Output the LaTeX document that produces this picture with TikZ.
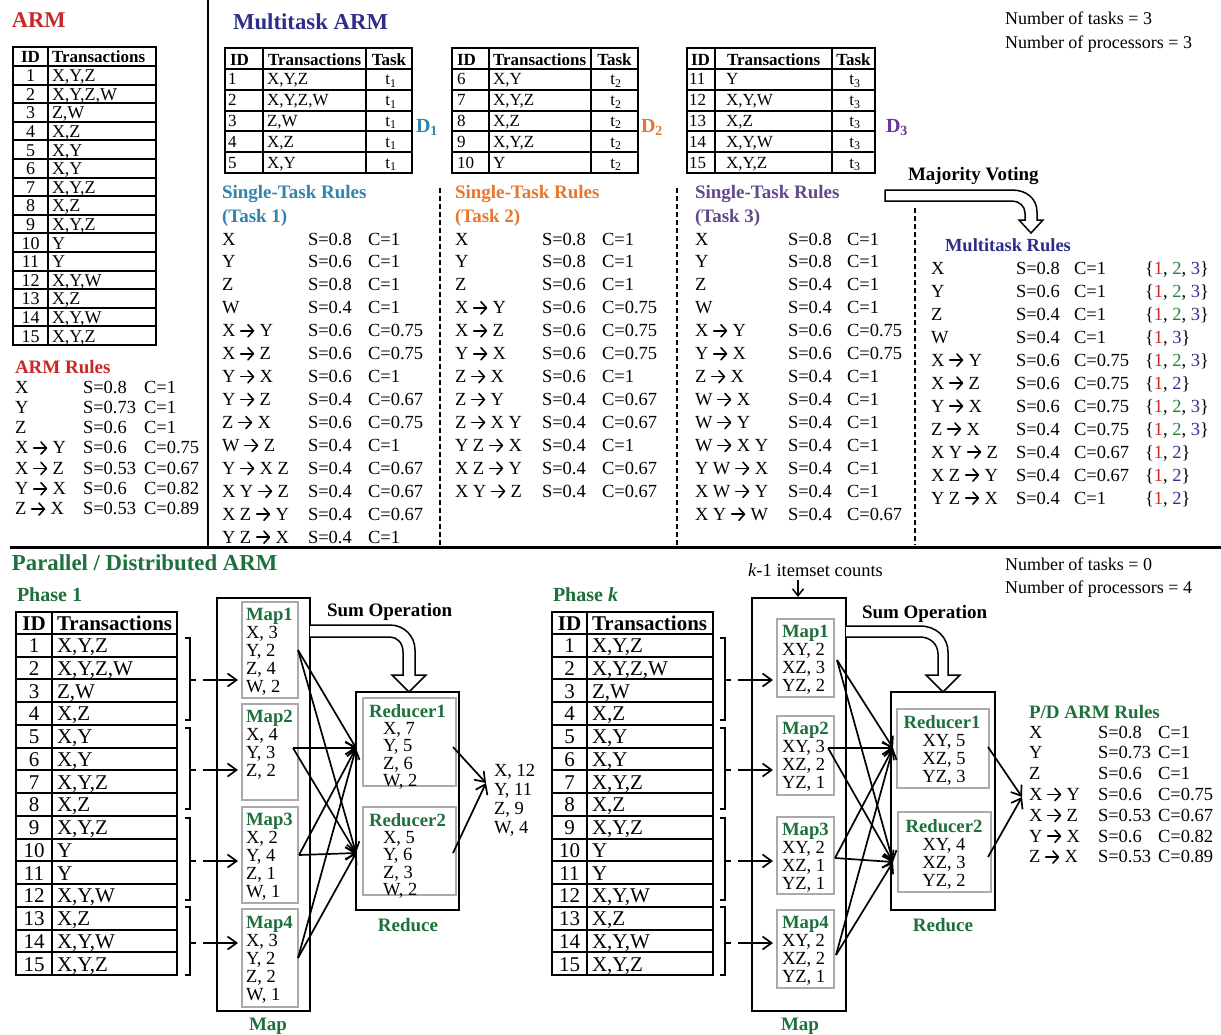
\documentclass[tikz,border=0pt]{standalone}
\usepackage{fontspec}
\setmainfont{Liberation Serif}
\usetikzlibrary{arrows.meta}
\definecolor{armred}{RGB}{200,40,40}
\definecolor{navy}{RGB}{44,46,138}
\definecolor{tealA}{RGB}{49,133,170}
\definecolor{orangeB}{RGB}{232,118,44}
\definecolor{purpleC}{RGB}{100,72,140}
\definecolor{purpleD}{RGB}{112,48,160}
\definecolor{pgreen}{RGB}{30,112,60}
\definecolor{setgreen}{RGB}{40,130,60}
\definecolor{setblue}{RGB}{50,50,150}
\definecolor{boxgray}{RGB}{170,170,170}
\newcommand{\fs}[1]{\fontsize{#1}{#1}\selectfont}
\newcommand{\rar}{\tikz[baseline=0pt]\draw[line width=0.085em, line cap=round, -{Straight Barb[length=0.3em,width=0.66em,line cap=round,line join=round]}] (0.05em,0.32em) -- (0.78em,0.32em);}
\newcommand{\sabc}{\{{\color{armred}1}, {\color{setgreen}2}, {\color{setblue}3}\}}
\newcommand{\sac}{\{{\color{armred}1}, {\color{setblue}3}\}}
\newcommand{\sab}{\{{\color{armred}1}, {\color{setblue}2}\}}
\def\translist{{X,Y,Z},{X,Y,Z,W},{Z,W},{X,Z},{X,Y},{X,Y},{X,Y,Z},{X,Z},{X,Y,Z},{Y},{Y},{X,Y,W},{X,Z},{X,Y,W},{X,Y,Z}}
\newcommand{\rulesblock}[7]{%
  \foreach \rl/\sv/\cv [count=\i from 0] in {#7} {
    \node[txt] (#1r\i) at (#2,#5+\i*#6) {\rl};
    \node[txt] (#1s\i) at (#3,#5+\i*#6) {S=\sv};
    \node[txt] (#1c\i) at (#4,#5+\i*#6) {C=\cv};
  }}
\begin{document}
\begin{tikzpicture}[x=1pt,y=-1pt,
  txt/.style={anchor=base west, inner sep=0pt, outer sep=0pt, font=\fs{18.5}},
  ctr/.style={anchor=base, inner sep=0pt, outer sep=0pt, font=\fs{18.5}},
  hd/.style={anchor=base west, inner sep=0pt, outer sep=0pt, font=\fs{19}\bfseries},
  tbl/.style={line width=2pt},
  dashline/.style={line width=1.2pt, dash pattern=on 5pt off 3pt},
  box/.style={draw, rectangle, inner sep=0pt, outer sep=0pt, anchor=north west, line width=1.5pt},
  gbox/.style={box, draw=boxgray, line width=2pt},
  arr/.style={line width=1.7pt, -{Straight Barb[length=9pt,width=13pt]}},
  brk/.style={line width=1.5pt},
  sumarr/.style={draw, fill=white, line width=1.5pt, line join=miter}]
\fill[white] (0,0) rectangle (1221,1034);
\useasboundingbox (0,0) rectangle (1221,1034);

% ---------- dividers ----------
\draw[line width=2.5pt] (208,0) -- (208,547);
\draw[line width=3pt] (10,547) -- (1221,547);
\draw[dashline] (440,188) -- (440,545);
\draw[dashline] (677,188) -- (677,545);
\draw[dashline] (915,208) -- (915,545);

% ---------- ARM ----------
\node[txt, font=\fs{22.5}\bfseries, text=armred] (tarm) at (12,27) {ARM};
\draw[tbl] (13,47) rectangle (156,345);
\draw[tbl] (48,47) -- (48,345);
\foreach \i in {0,...,14} \draw[tbl] (13,66+\i*18.6) -- (156,66+\i*18.6);
\node[ctr, font=\fs{17}\bfseries] (armhid) at (30.5,62) {ID};
\node[txt, font=\fs{17}\bfseries] (armhtr) at (52,62) {Transactions};
\foreach \t [count=\i] in \translist {
  \node[ctr, font=\fs{18}] (armid\i) at (30.5,63+\i*18.6) {\i};
  \node[txt, font=\fs{18}] (armtr\i) at (52,63+\i*18.6) {\t};
}
\node[txt, font=\fs{19}\bfseries, text=armred] (tarmr) at (15,373) {ARM Rules};
\rulesblock{ar}{15}{83}{144}{393}{20.33}{X/0.8/1, Y/0.73/1, Z/0.6/1, X \rar{} Y/0.6/0.75, X \rar{} Z/0.53/0.67, Y \rar{} X/0.6/0.82, Z \rar{} X/0.53/0.89}

% ---------- Multitask ARM ----------
\node[txt, font=\fs{22.8}\bfseries, text=navy] (tmarm) at (233,29) {Multitask ARM};
\node[txt, font=\fs{18}] (ntask1) at (1005,24) {Number of tasks = 3};
\node[txt, font=\fs{18}] (nproc1) at (1005,48) {Number of processors = 3};

% table 1
\draw[tbl] (225,48) rectangle (412,173);
\draw[tbl] (263,48) -- (263,173);
\draw[tbl] (366,48) -- (366,173);
\foreach \i in {0,...,4} \draw[tbl] (225,69+\i*20.8) -- (412,69+\i*20.8);
\node[txt, font=\fs{17}\bfseries] (tahid) at (230,65) {ID};
\node[txt, font=\fs{17}\bfseries] (tahtr) at (268,65) {Transactions};
\node[ctr, font=\fs{17}\bfseries] (tahtk) at (389,65) {Task};
\foreach \id/\t [count=\i] in {1/{X,Y,Z},2/{X,Y,Z,W},3/{Z,W},4/{X,Z},5/{X,Y}} {
  \node[txt, font=\fs{17}] (taid\i) at (228,64+\i*20.8) {\id};
  \node[txt, font=\fs{17}] (tatr\i) at (267,64+\i*20.8) {\t};
  \node[ctr, font=\fs{17}] (tatk\i) at (391,64+\i*20.8) {t\textsubscript{1}};
}
\node[txt, font=\fs{20}\bfseries, text=tealA] (d1) at (416,132) {D\textsubscript{1}};

% table 2
\draw[tbl] (452,48) rectangle (638,173);
\draw[tbl] (489,48) -- (489,173);
\draw[tbl] (591,48) -- (591,173);
\foreach \i in {0,...,4} \draw[tbl] (452,69+\i*20.8) -- (638,69+\i*20.8);
\node[txt, font=\fs{17}\bfseries] (tbhid) at (457,65) {ID};
\node[txt, font=\fs{17}\bfseries] (tbhtr) at (493,65) {Transactions};
\node[ctr, font=\fs{17}\bfseries] (tbhtk) at (614.5,65) {Task};
\foreach \id/\t [count=\i] in {6/{X,Y},7/{X,Y,Z},8/{X,Z},9/{X,Y,Z},10/{Y}} {
  \node[txt, font=\fs{17}] (tbid\i) at (457,64+\i*20.8) {\id};
  \node[txt, font=\fs{17}] (tbtr\i) at (493,64+\i*20.8) {\t};
  \node[ctr, font=\fs{17}] (tbtk\i) at (616,64+\i*20.8) {t\textsubscript{2}};
}
\node[txt, font=\fs{20}\bfseries, text=orangeB] (d2) at (641,132) {D\textsubscript{2}};

% table 3
\draw[tbl] (687,48) rectangle (875,173);
\draw[tbl] (715,48) -- (715,173);
\draw[tbl] (832,48) -- (832,173);
\foreach \i in {0,...,4} \draw[tbl] (687,69+\i*20.8) -- (875,69+\i*20.8);
\node[txt, font=\fs{17}\bfseries] (tchid) at (691,65) {ID};
\node[txt, font=\fs{17}\bfseries] (tchtr) at (727,65) {Transactions};
\node[ctr, font=\fs{17}\bfseries] (tchtk) at (853.5,65) {Task};
\foreach \id/\t [count=\i] in {11/{Y},12/{X,Y,W},13/{X,Z},14/{X,Y,W},15/{X,Y,Z}} {
  \node[txt, font=\fs{17}] (tcid\i) at (689,64+\i*20.8) {\id};
  \node[txt, font=\fs{17}] (tctr\i) at (726,64+\i*20.8) {\t};
  \node[ctr, font=\fs{17}] (tctk\i) at (855,64+\i*20.8) {t\textsubscript{3}};
}
\node[txt, font=\fs{20}\bfseries, text=purpleD] (d3) at (886,132) {D\textsubscript{3}};

% single-task rules
\node[hd, text=tealA] (st1a) at (222,198) {Single-Task Rules};
\node[hd, text=tealA] (st1b) at (222,222) {(Task 1)};
\rulesblock{ra}{222}{308}{368}{245}{22.93}{X/0.8/1, Y/0.6/1, Z/0.8/1, W/0.4/1, X \rar{} Y/0.6/0.75, X \rar{} Z/0.6/0.75, Y \rar{} X/0.6/1, Y \rar{} Z/0.4/0.67, Z \rar{} X/0.6/0.75, W \rar{} Z/0.4/1, Y \rar{} X Z/0.4/0.67, X Y \rar{} Z/0.4/0.67, X Z \rar{} Y/0.4/0.67, Y Z \rar{} X/0.4/1}

\node[hd, text=orangeB] (st2a) at (455,198) {Single-Task Rules};
\node[hd, text=orangeB] (st2b) at (455,222) {(Task 2)};
\rulesblock{rb}{455}{542}{602}{245}{22.93}{X/0.8/1, Y/0.8/1, Z/0.6/1, X \rar{} Y/0.6/0.75, X \rar{} Z/0.6/0.75, Y \rar{} X/0.6/0.75, Z \rar{} X/0.6/1, Z \rar{} Y/0.4/0.67, Z \rar{} X Y/0.4/0.67, Y Z \rar{} X/0.4/1, X Z \rar{} Y/0.4/0.67, X Y \rar{} Z/0.4/0.67}

\node[hd, text=purpleC] (st3a) at (695,198) {Single-Task Rules};
\node[hd, text=purpleC] (st3b) at (695,222) {(Task 3)};
\rulesblock{rc}{695}{788}{847}{245}{22.93}{X/0.8/1, Y/0.8/1, Z/0.4/1, W/0.4/1, X \rar{} Y/0.6/0.75, Y \rar{} X/0.6/0.75, Z \rar{} X/0.4/1, W \rar{} X/0.4/1, W \rar{} Y/0.4/1, W \rar{} X Y/0.4/1, Y W \rar{} X/0.4/1, X W \rar{} Y/0.4/1, X Y \rar{} W/0.4/0.67}

% majority voting
\node[txt, font=\fs{19}\bfseries] (mvote) at (908,180) {Majority Voting};
\draw[sumarr] (885,190) -- (1012,190) .. controls (1027,190) and (1037,199) .. (1037,212) -- (1037,220) -- (1043,220) -- (1031,233) -- (1019,220) -- (1025,220) -- (1025,213) .. controls (1025,206) and (1019,201) .. (1012,201) -- (885,201) -- cycle;

% multitask rules
\node[txt, font=\fs{18.5}\bfseries, text=navy] (tmr) at (945,251) {Multitask Rules};
\foreach \rl/\sv/\cv/\st [count=\i from 0] in {X/0.8/1/\sabc, Y/0.6/1/\sabc, Z/0.4/1/\sabc, W/0.4/1/\sac, X \rar{} Y/0.6/0.75/\sabc, X \rar{} Z/0.6/0.75/\sab, Y \rar{} X/0.6/0.75/\sabc, Z \rar{} X/0.4/0.75/\sabc, X Y \rar{} Z/0.4/0.67/\sab, X Z \rar{} Y/0.4/0.67/\sab, Y Z \rar{} X/0.4/1/\sab} {
  \node[txt] (mtr\i) at (931,274+\i*23) {\rl};
  \node[txt] (mts\i) at (1016,274+\i*23) {S=\sv};
  \node[txt] (mtc\i) at (1074,274+\i*23) {C=\cv};
  \node[txt] (mtt\i) at (1145,274+\i*23) {\st};
}

% ---------- Parallel / Distributed ARM ----------
\node[txt, font=\fs{22.8}\bfseries, text=pgreen] (tpd) at (12,570) {Parallel / Distributed ARM};
\node[txt, font=\fs{18}] (ntask2) at (1005,570) {Number of tasks = 0};
\node[txt, font=\fs{18}] (nproc2) at (1005,593) {Number of processors = 4};

% Phase 1 table
\node[txt, font=\fs{20}\bfseries, text=pgreen] (tph1) at (17,601) {Phase 1};
\draw[tbl] (16,612) rectangle (177,975);
\draw[tbl] (52,612) -- (52,975);
\foreach \i in {0,...,14} \draw[tbl] (16,634+\i*22.733) -- (177,634+\i*22.733);
\node[ctr, font=\fs{21}\bfseries] (p1hid) at (34,630) {ID};
\node[txt, font=\fs{21}\bfseries] (p1htr) at (57,630) {Transactions};
\foreach \t [count=\i] in \translist {
  \node[ctr, font=\fs{21}] (p1id\i) at (34,630+\i*22.733) {\i};
  \node[txt, font=\fs{21}] (p1tr\i) at (57,630+\i*22.733) {\t};
}
\foreach \a/\b/\m [count=\k] in {638/720/680, 728/809/770, 818/900/861, 907/975/943} {
  \draw[brk] (185,\a) -- (190,\a) -- (190,\b) -- (185,\b);
  \draw[brk] (190,\m) -- (196,\m);
  \coordinate (p1b\k) at (203,\m);
  \coordinate (p1a\k) at (238,\m);
  \draw[arr] (p1b\k) -- (p1a\k);
}

% Phase 1 map
\node[box, minimum width=93pt, minimum height=413pt] (p1map) at (217,598) {};
\node[gbox, minimum width=56pt, minimum height=96pt] (p1m1) at (242,602) {};
\node[gbox, minimum width=56pt, minimum height=96pt] (p1m2) at (242,704) {};
\node[gbox, minimum width=56pt, minimum height=96pt] (p1m3) at (242,807) {};
\node[gbox, minimum width=56pt, minimum height=98pt] (p1m4) at (242,909) {};
\node[txt, font=\fs{18.7}\bfseries, text=pgreen] (p1m1t) at (246,620) {Map1};
\foreach \t [count=\i] in {{X, 3},{Y, 2},{Z, 4},{W, 2}} \node[txt] (p1m1l\i) at (246,620+\i*18.2) {\t};
\node[txt, font=\fs{18.7}\bfseries, text=pgreen] (p1m2t) at (246,722) {Map2};
\foreach \t [count=\i] in {{X, 4},{Y, 3},{Z, 2}} \node[txt] (p1m2l\i) at (246,722+\i*18.2) {\t};
\node[txt, font=\fs{18.7}\bfseries, text=pgreen] (p1m3t) at (246,825) {Map3};
\foreach \t [count=\i] in {{X, 2},{Y, 4},{Z, 1},{W, 1}} \node[txt] (p1m3l\i) at (246,825+\i*18.2) {\t};
\node[txt, font=\fs{18.7}\bfseries, text=pgreen] (p1m4t) at (246,928) {Map4};
\foreach \t [count=\i] in {{X, 3},{Y, 2},{Z, 2},{W, 1}} \node[txt] (p1m4l\i) at (246,928+\i*18.2) {\t};
\node[ctr, font=\fs{19}\bfseries, text=pgreen] (p1maplbl) at (268,1030) {Map};

% Phase 1 sum operation
\node[txt, font=\fs{19}\bfseries] (p1sum) at (327,616) {Sum Operation};
\draw[sumarr] (310,625) -- (390,625) .. controls (404,625) and (415,636) .. (415,650) -- (415,675) -- (426,675) -- (409,692) -- (392,675) -- (403,675) -- (403,652) .. controls (403,643) and (397,637) .. (390,637) -- (310,637);

% Phase 1 reduce
\node[box, minimum width=103pt, minimum height=218pt] (p1red) at (356,692) {};
\node[gbox, minimum width=93pt, minimum height=88pt] (p1r1) at (363,698) {};
\node[gbox, minimum width=93pt, minimum height=88pt] (p1r2) at (363,807) {};
\node[txt, font=\fs{18.7}\bfseries, text=pgreen] (p1r1t) at (369,717) {Reducer1};
\foreach \t [count=\i] in {{X, 7},{Y, 5},{Z, 6},{W, 2}} \node[txt] (p1r1l\i) at (383,717+\i*17.4) {\t};
\node[txt, font=\fs{18.7}\bfseries, text=pgreen] (p1r2t) at (369,826) {Reducer2};
\foreach \t [count=\i] in {{X, 5},{Y, 6},{Z, 3},{W, 2}} \node[txt] (p1r2l\i) at (383,826+\i*17.4) {\t};
\node[ctr, font=\fs{19}\bfseries, text=pgreen] (p1redlbl) at (408,931) {Reduce};
\foreach \t [count=\i] in {{X, 12},{Y, 11},{Z, 9},{W, 4}} \node[txt] (p1o\i) at (494,757+\i*19) {\t};

\coordinate (p1s1) at (298,650);
\coordinate (p1s2) at (293,748);
\coordinate (p1s3) at (299,855);
\coordinate (p1s4) at (298,958);
\coordinate (p1t1) at (356,748);
\coordinate (p1t2) at (356,853);
\foreach \k in {1,...,4} {
  \draw[arr] (p1s\k) -- (p1t1);
  \draw[arr] (p1s\k) -- (p1t2);
}
\coordinate (p1q1) at (453,747);
\coordinate (p1q2) at (453,853);
\coordinate (p1out) at (486,783);
\draw[arr] (p1q1) -- (p1out);
\draw[arr] (p1q2) -- (p1out);

% Phase k table
\node[txt, font=\fs{20}\bfseries, text=pgreen] (tphk) at (553,601) {Phase \textit{k}};
\draw[tbl] (552,612) rectangle (713,975);
\draw[tbl] (587,612) -- (587,975);
\foreach \i in {0,...,14} \draw[tbl] (552,634+\i*22.733) -- (713,634+\i*22.733);
\node[ctr, font=\fs{21}\bfseries] (pkhid) at (569.5,630) {ID};
\node[txt, font=\fs{21}\bfseries] (pkhtr) at (592,630) {Transactions};
\foreach \t [count=\i] in \translist {
  \node[ctr, font=\fs{21}] (pkid\i) at (569.5,630+\i*22.733) {\i};
  \node[txt, font=\fs{21}] (pktr\i) at (592,630+\i*22.733) {\t};
}
\foreach \a/\b/\m [count=\k] in {638/720/680, 728/809/770, 818/900/861, 907/975/943} {
  \draw[brk] (720,\a) -- (725,\a) -- (725,\b) -- (720,\b);
  \draw[brk] (725,\m) -- (731,\m);
  \coordinate (pkb\k) at (738,\m);
  \coordinate (pka\k) at (773,\m);
  \draw[arr] (pkb\k) -- (pka\k);
}

% Phase k map
\node[txt] (kcount) at (748,576) {\textit{k}-1 itemset counts};
\node[box, minimum width=94pt, minimum height=413pt] (pkmap) at (752,598) {};
\coordinate (kc1) at (798,580);
\coordinate (kc2) at (798,597);
\draw[line width=1.5pt, -{Straight Barb[length=7pt,width=11pt]}] (kc1) -- (kc2);
\node[gbox, minimum width=57pt, minimum height=78pt] (pkm1) at (777,619) {};
\node[gbox, minimum width=57pt, minimum height=79pt] (pkm2) at (777,716) {};
\node[gbox, minimum width=57pt, minimum height=77pt] (pkm3) at (777,817) {};
\node[gbox, minimum width=57pt, minimum height=78pt] (pkm4) at (777,910) {};
\node[txt, font=\fs{18.7}\bfseries, text=pgreen] (pkm1t) at (782,637) {Map1};
\foreach \t [count=\i] in {{XY, 2},{XZ, 3},{YZ, 2}} \node[txt] (pkm1l\i) at (782,637+\i*18) {\t};
\node[txt, font=\fs{18.7}\bfseries, text=pgreen] (pkm2t) at (782,734) {Map2};
\foreach \t [count=\i] in {{XY, 3},{XZ, 2},{YZ, 1}} \node[txt] (pkm2l\i) at (782,734+\i*18) {\t};
\node[txt, font=\fs{18.7}\bfseries, text=pgreen] (pkm3t) at (782,835) {Map3};
\foreach \t [count=\i] in {{XY, 2},{XZ, 1},{YZ, 1}} \node[txt] (pkm3l\i) at (782,835+\i*18) {\t};
\node[txt, font=\fs{18.7}\bfseries, text=pgreen] (pkm4t) at (782,928) {Map4};
\foreach \t [count=\i] in {{XY, 2},{XZ, 2},{YZ, 1}} \node[txt] (pkm4l\i) at (782,928+\i*18) {\t};
\node[ctr, font=\fs{19}\bfseries, text=pgreen] (pkmaplbl) at (800,1030) {Map};

% Phase k sum operation
\node[txt, font=\fs{19}\bfseries] (pksum) at (862,618) {Sum Operation};
\draw[sumarr] (846,626) -- (920,626) .. controls (936,626) and (948,637) .. (948,652) -- (948,675) -- (960,675) -- (943,692) -- (926,675) -- (938,675) -- (938,654) .. controls (938,644) and (930,637) .. (920,637) -- (846,637);

% Phase k reduce
\node[box, minimum width=104pt, minimum height=218pt] (pkred) at (891,692) {};
\node[gbox, minimum width=92pt, minimum height=79pt] (pkr1) at (897,709) {};
\node[gbox, minimum width=93pt, minimum height=80pt] (pkr2) at (898,812) {};
\node[ctr, font=\fs{18.7}\bfseries, text=pgreen] (pkr1t) at (942,728) {Reducer1};
\foreach \t [count=\i] in {{XY, 5},{XZ, 5},{YZ, 3}} \node[ctr] (pkr1l\i) at (944,728+\i*18.3) {\t};
\node[ctr, font=\fs{18.7}\bfseries, text=pgreen] (pkr2t) at (944,832) {Reducer2};
\foreach \t [count=\i] in {{XY, 4},{XZ, 3},{YZ, 2}} \node[ctr] (pkr2l\i) at (944,832+\i*18.3) {\t};
\node[ctr, font=\fs{19}\bfseries, text=pgreen] (pkredlbl) at (943,931) {Reduce};

\coordinate (pks1) at (837,660);
\coordinate (pks2) at (828,748);
\coordinate (pks3) at (835,858);
\coordinate (pks4) at (836,955);
\coordinate (pkt1) at (893,748);
\coordinate (pkt2) at (893,862);
\foreach \k in {1,...,4} {
  \draw[arr] (pks\k) -- (pkt1);
  \draw[arr] (pks\k) -- (pkt2);
}
\coordinate (pkq1) at (988,747);
\coordinate (pkq2) at (988,857);
\coordinate (pkout) at (1022,797);
\draw[arr] (pkq1) -- (pkout);
\draw[arr] (pkq2) -- (pkout);

% P/D ARM rules
\node[txt, font=\fs{19}\bfseries, text=pgreen] (tpdr) at (1029,718) {P/D ARM Rules};
\rulesblock{pd}{1029}{1098}{1158}{738}{20.83}{X/0.8/1, Y/0.73/1, Z/0.6/1, X \rar{} Y/0.6/0.75, X \rar{} Z/0.53/0.67, Y \rar{} X/0.6/0.82, Z \rar{} X/0.53/0.89}
\end{tikzpicture}
\end{document}
